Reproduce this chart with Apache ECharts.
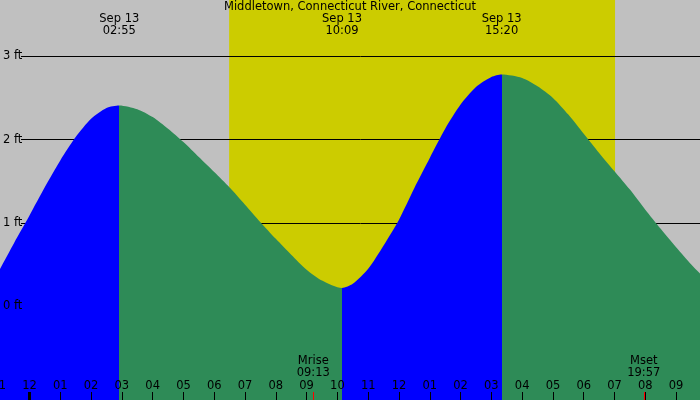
<!DOCTYPE html>
<html><head><meta charset="utf-8">
<script src="https://cdn.jsdelivr.net/npm/echarts@6/dist/echarts.min.js"></script>
<style>html,body{margin:0;padding:0;background:#c0c0c0}#c{width:700px;height:400px}</style>
</head><body><div id="c"></div>
<script>
const titleText = 'Middletown, Connecticut River, Connecticut';
// hours from midnight Sep 13, tide height in feet
const tideHours = [-1, -0.5, 0, 0.5, 1, 1.5, 2, 2.5, 2.917, 3.5, 4, 4.5, 5, 5.5, 6, 6.5, 7, 7.5, 8, 8.5, 9, 9.5, 10.15, 10.5, 11, 11.5, 12, 12.5, 13, 13.5, 14, 14.5, 15, 15.333, 16, 16.5, 17, 17.5, 18, 18.5, 19, 19.5, 20, 20.5, 21, 21.5, 22];
const tideFeet  = [0.42, 0.76, 1.09, 1.43, 1.75, 2.03, 2.25, 2.38, 2.41, 2.365, 2.27, 2.13, 1.97, 1.79, 1.61, 1.425, 1.22, 1.01, 0.81, 0.62, 0.44, 0.31, 0.22, 0.27, 0.45, 0.73, 1.04, 1.42, 1.78, 2.13, 2.42, 2.63, 2.75, 2.78, 2.74, 2.64, 2.50, 2.30, 2.07, 1.84, 1.62, 1.40, 1.16, 0.93, 0.71, 0.50, 0.31];
const extremeDates = ['Sep 13', 'Sep 13', 'Sep 13'];
const extremeTimes = ['02:55', '10:09', '15:20'];
const sunTimes = ['06:29', '19:01'];
const moonNames = ['Mrise', 'Mset'];
const moonTimes = ['09:13', '19:57'];
const depthLabels = [0, 1, 2, 3];

const toH = s => { const p = s.split(':').map(Number); return p[0] + p[1] / 60; };
const extremeHours = extremeTimes.map(toH);
const sunHours = sunTimes.map(toH);
const moonHours = moonTimes.map(toH);
const hourLabel = v => { const r = Math.round(v); let h = ((r % 12) + 12) % 12; if (h === 0) h = 12; return (h < 10 ? '0' : '') + h; };

const FONT = 'DejaVu Sans';
const X_MIN = -1, X_MAX = 22, Y_MIN = -1.124, Y_MAX = 3.675;
const txt = { fontFamily: FONT, fontSize: 11.5, color: '#000' };
const noLine = { show: false, onZero: false };

const chart = echarts.init(document.getElementById('c'), null, { renderer: 'canvas' });
chart.setOption({
  animation: false,
  backgroundColor: '#c0c0c0',
  title: { text: titleText, left: 'center', top: 1, padding: 0, textStyle: Object.assign({ fontWeight: 'normal' }, txt) },
  grid: [
    { left: -1.3, right: -6.9, top: 0, bottom: 0, containLabel: false, outerBoundsMode: 'none' },
    { left: 21, right: 0, top: 56.3, bottom: 93.7, containLabel: false, outerBoundsMode: 'none' }
  ],
  xAxis: [
    { type: 'value', gridIndex: 0, min: X_MIN, max: X_MAX, interval: 1, position: 'bottom', z: 5,
      axisLine: noLine, splitLine: { show: false },
      axisTick: { inside: true, length: 8, lineStyle: { color: '#000', width: 1 } },
      axisLabel: Object.assign({ inside: true, margin: 8, showMaxLabel: false, showMinLabel: true, hideOverlap: false, formatter: hourLabel }, txt) },
    { type: 'value', gridIndex: 0, min: X_MIN, max: X_MAX, position: 'bottom', z: 5,
      axisLine: noLine, splitLine: { show: false }, axisLabel: { show: false },
      axisTick: { inside: true, length: 8, customValues: [0], lineStyle: { color: '#000', width: 3 } } },
    { type: 'value', gridIndex: 0, min: X_MIN, max: X_MAX, position: 'bottom', z: 5,
      axisLine: noLine, splitLine: { show: false },
      axisTick: { inside: true, length: 8, customValues: moonHours, lineStyle: { color: '#ff0000', width: 1 } },
      axisLabel: Object.assign({ inside: true, margin: 21, lineHeight: 12, customValues: moonHours,
        formatter: v => { const i = moonHours.findIndex(m => Math.abs(m - v) < 1e-6); return i < 0 ? '' : moonNames[i] + '\n' + moonTimes[i]; } }, txt) },
    { type: 'value', gridIndex: 0, min: X_MIN, max: X_MAX, position: 'top', z: 5,
      axisLine: noLine, splitLine: { show: false }, axisTick: { show: false },
      axisLabel: Object.assign({ inside: true, margin: 13, lineHeight: 12, customValues: extremeHours,
        formatter: v => { const i = extremeHours.findIndex(m => Math.abs(m - v) < 1e-6); return i < 0 ? '' : extremeDates[i] + '\n' + extremeTimes[i]; } }, txt) },
    { type: 'value', gridIndex: 1, min: X_MIN, max: X_MAX, show: false }
  ],
  yAxis: [
    { type: 'value', gridIndex: 0, min: Y_MIN, max: Y_MAX, show: false },
    { type: 'value', gridIndex: 1, position: 'left', min: depthLabels[0], max: depthLabels[depthLabels.length - 1], interval: 1, z: 2,
      axisLine: noLine, axisTick: { show: false }, axisLabel: { show: false },
      splitLine: { show: true, lineStyle: { color: '#000', width: 1 } } },
    { type: 'value', gridIndex: 1, position: 'left', offset: 0, min: depthLabels[0], max: depthLabels[depthLabels.length - 1], interval: 1, z: 5,
      axisLine: noLine, axisTick: { show: false }, splitLine: { show: false },
      axisLabel: Object.assign({ align: 'left', margin: 18, formatter: '{value} ft' }, txt) }
  ],
  visualMap: {
    type: 'piecewise', show: false, dimension: 0, seriesIndex: 1,
    pieces: [
      { lt: extremeHours[0], color: '#0000ff' },
      { gte: extremeHours[0], lt: extremeHours[1], color: '#2e8b57' },
      { gte: extremeHours[1], lt: extremeHours[2], color: '#0000ff' },
      { gte: extremeHours[2], color: '#2e8b57' }
    ]
  },
  series: [
    { type: 'line', xAxisIndex: 0, yAxisIndex: 0, z: 1, silent: true, symbol: 'none',
      data: sunHours.map(h => [h, Y_MAX]),
      lineStyle: { width: 0 }, areaStyle: { color: '#cccc00', opacity: 1, origin: 'start' } },
    { type: 'line', xAxisIndex: 0, yAxisIndex: 0, z: 3, silent: true, symbol: 'none',
      smooth: 0.25,
      data: tideHours.map((h, i) => [h, tideFeet[i]]),
      lineStyle: { width: 0 }, areaStyle: { opacity: 1, origin: 'start' } }
  ]
});
</script>
</body></html>
